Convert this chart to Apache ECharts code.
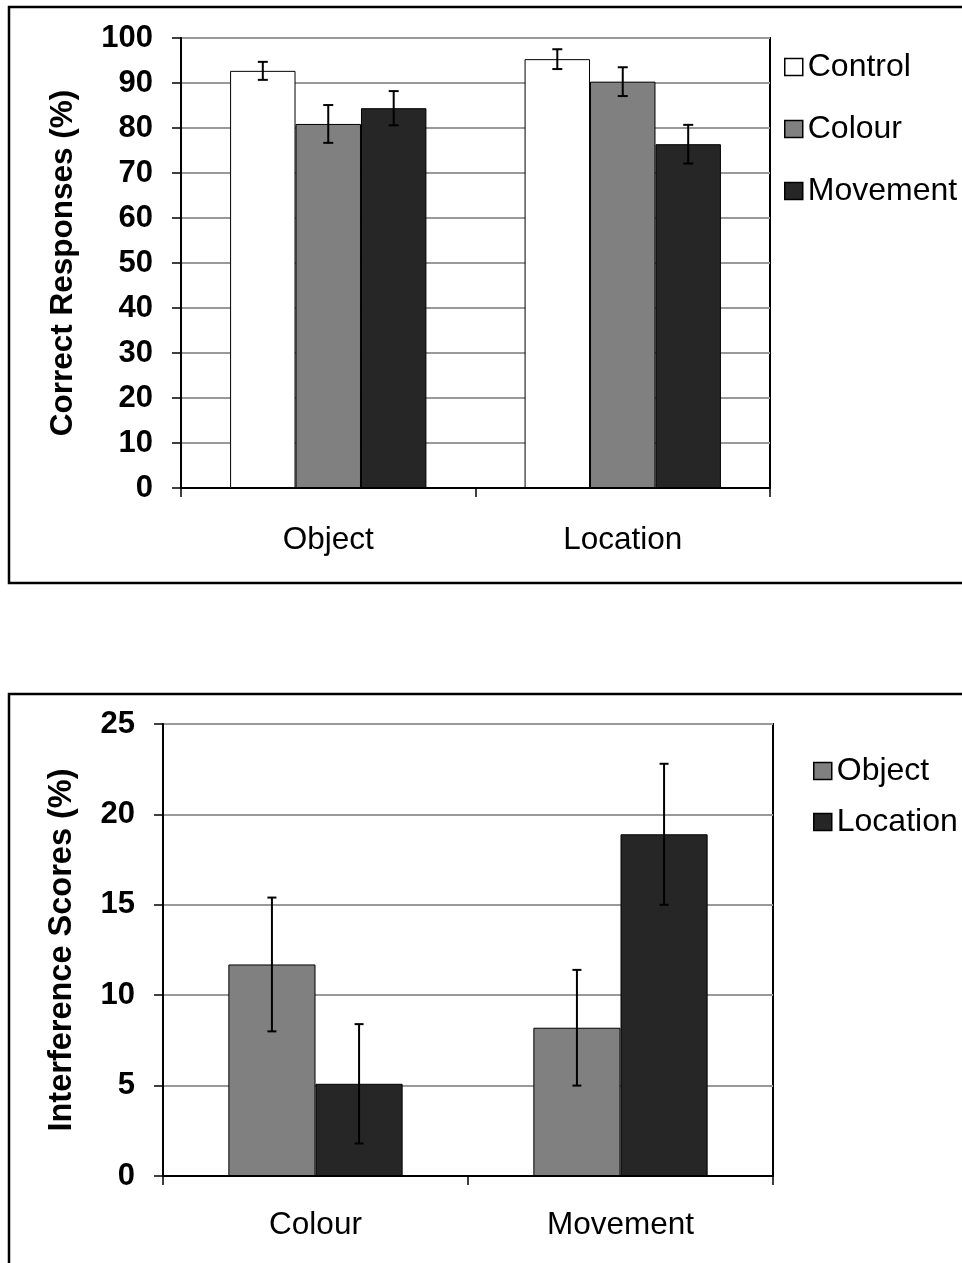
<!DOCTYPE html>
<html>
<head>
<meta charset="utf-8">
<script src="https://cdn.jsdelivr.net/npm/echarts@6/dist/echarts.min.js"></script>
<style>
html,body{margin:0;padding:0;background:#fff;}
#chart{width:962px;height:1263px;}
</style>
</head>
<body>
<div id="chart"></div>
<script>
// ---- Data ----
const categoriesTop = ['Object', 'Location'];
const controlValues = [92.7, 95.3];
const colourValues = [80.9, 90.3];
const movementValues = [84.4, 76.4];
const controlErr = [2.0, 2.2];
const colourErr = [4.2, 3.2];
const movementErr = [3.8, 4.3];
const topTicks = { min: 0, max: 100, interval: 10 };

const categoriesBottom = ['Colour', 'Movement'];
const objectScores = [11.7, 8.2];
const locationScores = [5.1, 18.9];
const objectErr = [3.7, 3.2];
const locationErr = [3.3, 3.9];
const bottomTicks = { min: 0, max: 25, interval: 5 };

// ---- Styling ----
const FONT = 'Liberation Sans, Arial, sans-serif';
const C_WHITE = '#ffffff', C_GREY = '#808080', C_DARK = '#262626';

function errData(vals, errs) {
  return vals.map((v, i) => [i, v - errs[i], v + errs[i]]);
}

function errSeries(name, gridIdx, vals, errs, idx, n, gapFrac, capHalf) {
  return {
    type: 'custom',
    name: name + ' err',
    xAxisIndex: gridIdx, yAxisIndex: gridIdx,
    z: 10,
    silent: true,
    encode: { x: 0, y: [1, 2] },
    data: errData(vals, errs),
    renderItem: function (params, api) {
      const band = api.size([1, 0])[0];
      const bw = band * (1 - gapFrac) / n;
      const offset = (idx - (n - 1) / 2) * bw;
      const lo = api.coord([api.value(0), api.value(1)]);
      const hi = api.coord([api.value(0), api.value(2)]);
      const x = lo[0] + offset;
      const st = { stroke: '#000', lineWidth: 2 };
      return {
        type: 'group',
        children: [
          { type: 'line', shape: { x1: x, y1: lo[1], x2: x, y2: hi[1] }, style: st },
          { type: 'line', shape: { x1: x - capHalf, y1: lo[1], x2: x + capHalf, y2: lo[1] }, style: st },
          { type: 'line', shape: { x1: x - capHalf, y1: hi[1], x2: x + capHalf, y2: hi[1] }, style: st }
        ]
      };
    }
  };
}

function barSeries(name, gridIdx, vals, color, gap) {
  return {
    type: 'bar',
    name: name,
    xAxisIndex: gridIdx, yAxisIndex: gridIdx,
    data: vals,
    barGap: '0%',
    barCategoryGap: gap,
    itemStyle: { color: color, borderColor: '#000', borderWidth: 1 },
    emphasis: { disabled: true }
  };
}

const axisCommonX = {
  type: 'category',
  axisLine: { lineStyle: { color: '#000', width: 2 } },
  axisTick: { show: true, length: 9, lineStyle: { color: '#000', width: 1.5 } },
  splitLine: { show: false }
};

function yAxisDef(gridIdx, ticks, name, nameGap, nameSize) {
  return {
    type: 'value',
    gridIndex: gridIdx,
    min: ticks.min, max: ticks.max, interval: ticks.interval,
    name: name,
    nameLocation: 'middle',
    nameGap: nameGap,
    nameRotate: 90,
    nameTextStyle: { color: '#000', fontFamily: FONT, fontSize: nameSize, fontWeight: 'bold' },
    axisLine: { show: true, lineStyle: { color: '#000', width: 2 } },
    axisTick: { show: true, length: 9, lineStyle: { color: '#000', width: 1.5 } },
    axisLabel: { color: '#000', fontFamily: FONT, fontSize: 31, fontWeight: 'bold', margin: 28 },
    splitLine: { show: true, lineStyle: { color: '#999', width: 2 } }
  };
}

const chart = echarts.init(document.getElementById('chart'), null, { renderer: 'canvas' });

const option = {
  backgroundColor: '#fff',
  animation: false,
  graphic: [
    { type: 'rect', shape: { x: 9, y: 7, width: 1000, height: 576 }, style: { fill: 'none', stroke: '#000', lineWidth: 2.5 }, z: 0 },
    { type: 'rect', shape: { x: 9, y: 694, width: 1000, height: 700 }, style: { fill: 'none', stroke: '#000', lineWidth: 2.5 }, z: 0 }
  ],
  grid: [
    { left: 181, top: 38, width: 589, height: 450, show: true, borderColor: '#000', borderWidth: 2, backgroundColor: 'transparent' },
    { left: 163, top: 724, width: 610, height: 452, show: true, borderColor: '#000', borderWidth: 2, backgroundColor: 'transparent' }
  ],
  legend: [
    {
      data: ['Control', 'Colour', 'Movement'],
      orient: 'vertical', left: 784, top: 51, padding: 0,
      itemWidth: 18, itemHeight: 17, itemGap: 30,
      icon: 'rect',
      itemStyle: { borderColor: '#000', borderWidth: 1.5 },
      textStyle: { color: '#000', fontFamily: FONT, fontSize: 32 },
      selectedMode: false
    },
    {
      data: ['Object', 'Location'],
      orient: 'vertical', left: 813, top: 755, padding: 0,
      itemWidth: 18, itemHeight: 17, itemGap: 19,
      icon: 'rect',
      itemStyle: { borderColor: '#000', borderWidth: 1.5 },
      textStyle: { color: '#000', fontFamily: FONT, fontSize: 32 },
      selectedMode: false
    }
  ],
  xAxis: [
    Object.assign({}, axisCommonX, { gridIndex: 0, data: categoriesTop, axisLabel: { color: '#000', fontFamily: FONT, fontSize: 31.5, margin: 36 } }),
    Object.assign({}, axisCommonX, { gridIndex: 1, data: categoriesBottom, axisLabel: { color: '#000', fontFamily: FONT, fontSize: 31.5, margin: 33 } })
  ],
  yAxis: [
    yAxisDef(0, topTicks, 'Correct Responses (%)', 102, 31.5),
    yAxisDef(1, bottomTicks, 'Interference Scores (%)', 84, 32.5)
  ],
  series: [
    barSeries('Control', 0, controlValues, C_WHITE, '33.33%'),
    barSeries('Colour', 0, colourValues, C_GREY, '33.33%'),
    barSeries('Movement', 0, movementValues, C_DARK, '33.33%'),
    errSeries('Control', 0, controlValues, controlErr, 0, 3, 1 / 3, 5),
    errSeries('Colour', 0, colourValues, colourErr, 1, 3, 1 / 3, 5),
    errSeries('Movement', 0, movementValues, movementErr, 2, 3, 1 / 3, 5),
    barSeries('Object', 1, objectScores, C_GREY, '42.86%'),
    barSeries('Location', 1, locationScores, C_DARK, '42.86%'),
    errSeries('Object', 1, objectScores, objectErr, 0, 2, 0.4286, 4.5),
    errSeries('Location', 1, locationScores, locationErr, 1, 2, 0.4286, 4.5)
  ]
};

chart.setOption(option);
</script>
</body>
</html>
